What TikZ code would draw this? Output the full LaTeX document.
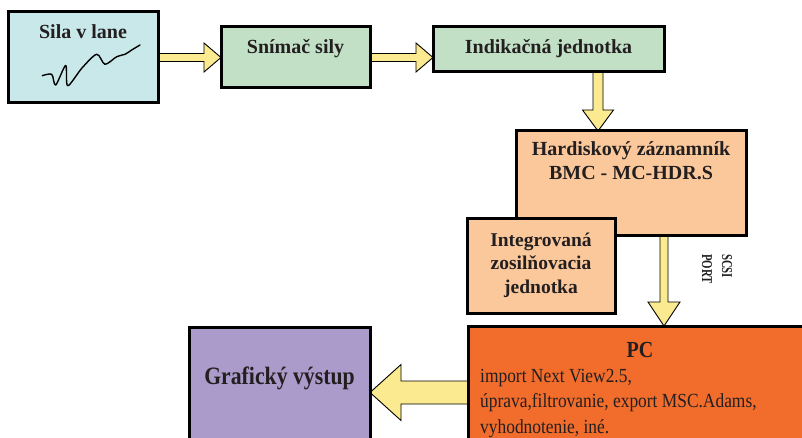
\documentclass[tikz,border=0pt]{standalone}
\usepackage{fontspec}
\setmainfont{Liberation Serif}
\newfontfamily\narrowserif[FakeStretch=0.87]{Liberation Serif}
\newfontfamily\slimserif[FakeStretch=0.72]{Liberation Serif}
\usetikzlibrary{calc,backgrounds}

\definecolor{skyfill}{HTML}{C9E8EA}
\definecolor{mintfill}{HTML}{C2E0C6}
\definecolor{peachfill}{HTML}{FBC89B}
\definecolor{orangefill}{HTML}{F26D2C}
\definecolor{lilacfill}{HTML}{AA9BCB}
\definecolor{arrowfill}{HTML}{FBEA8F}
\definecolor{inktext}{HTML}{231F20}

\tikzset{
  boxstyle/.style={draw=black, line width=3pt, inner sep=0pt, outer sep=0pt},
  titletext/.style={font=\bfseries\fontsize{20}{23.5}\selectfont, text=inktext, inner sep=0pt, anchor=base},
  blockarrowstyle/.style={draw=black, line width=0.9pt, fill=arrowfill, line join=miter},
}

% fat arrow: #1 start, #2 tip, #3 half shaft width, #4 half head width, #5 head length
\newcommand\blockarrow[5]{%
  \coordinate (ba-base) at ($(#2)!#5!(#1)$);
  \draw[blockarrowstyle]
    ($(#1)!#3!90:(#2)$) -- ($(ba-base)!#3!90:(#2)$) -- ($(ba-base)!#4!90:(#2)$)
    -- (#2)
    -- ($(ba-base)!#4!-90:(#2)$) -- ($(ba-base)!#3!-90:(#2)$) -- ($(#1)!#3!-90:(#2)$) -- cycle;}

\begin{document}
\begin{tikzpicture}[x=1pt, y=-1pt]
  \useasboundingbox (0,0) rectangle (802,438);
  \clip (0,0) rectangle (802,438);

  % boxes
  \node[boxstyle, fill=skyfill, minimum width=150pt, minimum height=91pt] (b1) at (83,57.5) {};
  \node[boxstyle, fill=mintfill, minimum width=149pt, minimum height=61pt] (b2) at (295.5,57.5) {};
  \node[boxstyle, fill=mintfill, minimum width=231pt, minimum height=45pt] (b3) at (548.5,49.5) {};
  \node[boxstyle, fill=peachfill, minimum width=230pt, minimum height=104pt] (b4) at (631,183) {};
  \node[boxstyle, fill=peachfill, minimum width=148pt, minimum height=94pt] (b5) at (541,266) {};
  \node[boxstyle, fill=orangefill, minimum width=360pt, minimum height=130pt, anchor=north west] (pc) at (468,326) {};
  \node[boxstyle, fill=lilacfill, minimum width=181pt, minimum height=130pt, anchor=north west] (gr) at (189,327) {};

  % signal trace
  \draw[line width=1.4pt, line cap=round, line join=round]
    plot[smooth, tension=0.5] coordinates {(42.3,75.7) (51.7,74.3) (55.7,85) (65.7,65.5) (67.7,85.7)
      (82,68) (96.7,54.3) (105,64.3) (116.7,56.7) (125,54.3) (131.7,50) (140,45)};

  % labels (multi-line ones are placed by the baseline of their last line)
  \node[titletext] (t1) at (83,38.5) {Sila v lane};
  \node[titletext] (t2) at (295.5,54) {Snímač sily};
  \node[titletext] (t3) at (548.5,53.5) {Indikačná jednotka};
  \node[titletext, align=center] (t4) at (631,179.5) {Hardiskový záznamník\\BMC - MC-HDR.S};
  \node[titletext, align=center, font=\bfseries\fontsize{19.5}{23.5}\selectfont] (t5) at (541,293) {Integrovaná\\zosilňovacia\\jednotka};
  \node[titletext, font=\narrowserif\bfseries\fontsize{23}{26}\selectfont] (t6) at (640,357.5) {PC};
  \node[text=inktext, inner sep=0pt, anchor=base west, align=left,
        font=\narrowserif\fontsize{20}{25.3}\selectfont] (t7) at (480,433)
        {import Next View2.5,\\úprava,filtrovanie, export MSC.Adams,\\vyhodnotenie, iné.};
  \node[titletext, font=\narrowserif\bfseries\fontsize{25}{28}\selectfont] (t8) at (279.5,384.5) {Grafický výstup};
  \node[text=inktext, inner sep=0pt, rotate=-90, align=left,
        font=\slimserif\bfseries\fontsize{15}{20}\selectfont] (t9) at (717,269) {SCSI\\PORT};

  % connectors
  \coordinate (k3) at (598,100);
  \coordinate (k4) at (664,280);
  \coordinate (k5) at (420,392.5);
  \begin{scope}[on background layer]
    \fill[white] (0,0) rectangle (802,438);
    \blockarrow{b1.east}{b2.west}{4pt}{14.5pt}{17pt}
    \blockarrow{b2.east}{b3.west |- b2.east}{4pt}{14.5pt}{17pt}
    \blockarrow{b3.south -| k3}{b4.north -| k3}{5pt}{15.5pt}{21pt}
    \blockarrow{b4.south -| k4}{pc.north -| k4}{4pt}{16pt}{24pt}
    \blockarrow{pc.west |- k5}{gr.east |- k5}{11.5pt}{28pt}{31pt}
  \end{scope}
\end{tikzpicture}
\end{document}
